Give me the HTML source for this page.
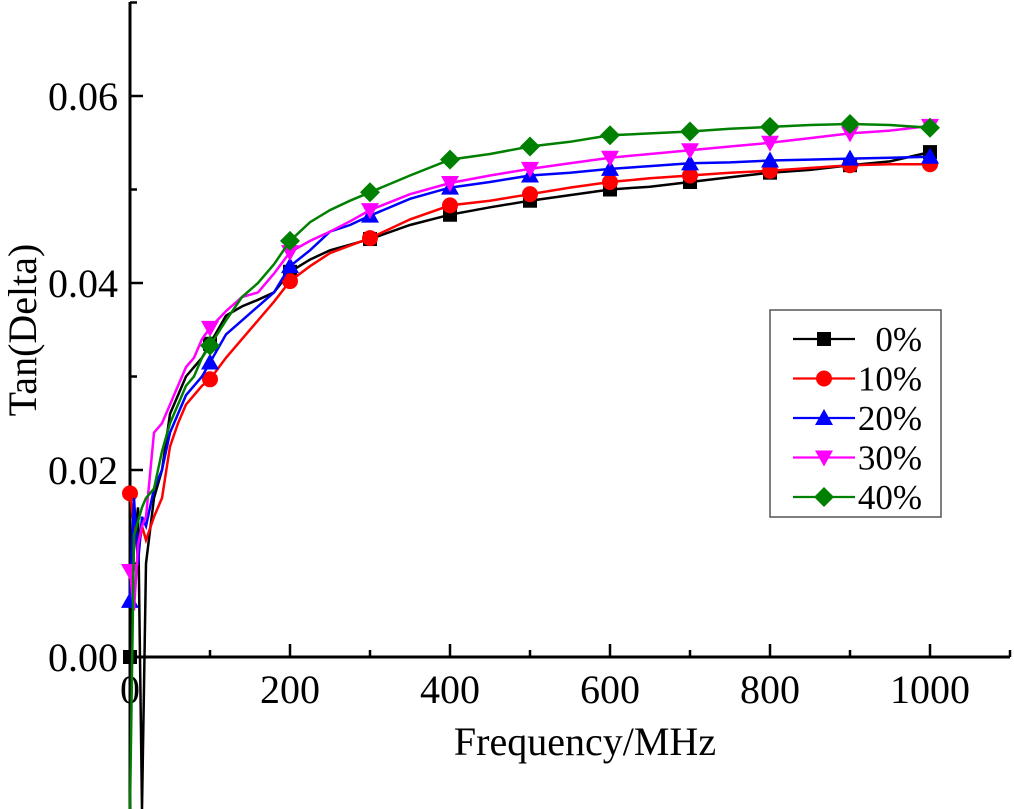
<!DOCTYPE html>
<html><head><meta charset="utf-8"><style>
html,body{margin:0;padding:0;background:#fff;overflow:hidden;width:1014px;height:809px;}
svg{display:block;font-family:"Liberation Serif",serif;}
</style></head><body>
<svg id="chart" width="1014" height="809" viewBox="0 0 1014 809" xmlns="http://www.w3.org/2000/svg">
<defs><clipPath id="clip"><rect x="0" y="0" width="1014" height="809"/></clipPath></defs>
<g id="axes"></g>
<g id="series" clip-path="url(#clip)"></g>
<g id="legend"></g>
</svg>
<script>
const freqs=[0,5,10,15,20,30,40,50,60,70,80,90,100,120,140,160,180,200,225,250,275,300,350,400,450,500,550,600,650,700,750,800,850,900,950,1000];
const s0=[0.000,0.012,0.016,-0.0163,0.010,0.017,0.020,0.026,0.028,0.030,0.031,0.032,0.0335,0.0365,0.0375,0.0382,0.039,0.0412,0.0425,0.0435,0.0441,0.0447,0.0462,0.0473,0.0481,0.0488,0.0494,0.0500,0.0503,0.0508,0.0513,0.0518,0.0521,0.0526,0.0530,0.0540];
const s1=[0.0175,0.014,0.011,0.014,0.0125,0.015,0.017,0.0225,0.025,0.027,0.028,0.029,0.0297,0.032,0.034,0.036,0.038,0.0402,0.0418,0.0432,0.0440,0.0448,0.0468,0.0483,0.0488,0.0495,0.0502,0.0508,0.0512,0.0515,0.0518,0.0520,0.0523,0.0526,0.0527,0.0527];
const s2=[0.006,0.017,0.010,0.015,0.014,0.018,0.020,0.024,0.026,0.028,0.029,0.030,0.0315,0.0345,0.036,0.0375,0.039,0.0418,0.0435,0.0455,0.0462,0.0472,0.0490,0.0502,0.0508,0.0515,0.0518,0.0522,0.0525,0.0528,0.0529,0.0531,0.0532,0.0533,0.0534,0.0535];
const s3=[0.0092,0.005,0.012,0.014,0.015,0.024,0.025,0.027,0.029,0.031,0.032,0.034,0.0352,0.0370,0.0385,0.039,0.041,0.0433,0.0445,0.0455,0.0466,0.0478,0.0495,0.0507,0.0515,0.0522,0.0528,0.0534,0.0538,0.0542,0.0546,0.0550,0.0555,0.0560,0.0563,0.0568];
const s4=[-0.0163,0.013,0.0145,0.016,0.017,0.018,0.022,0.025,0.027,0.029,0.030,0.032,0.0333,0.036,0.0385,0.040,0.042,0.0445,0.0465,0.0478,0.0488,0.0497,0.0515,0.0532,0.0538,0.0546,0.0551,0.0558,0.0560,0.0562,0.0565,0.0567,0.0569,0.0570,0.0569,0.0566];
const seriesNames=["0%","10%","20%","30%","40%"];
const xTicks=[0,200,400,600,800,1000];
const xTickLabels=["0","200","400","600","800","1000"];
const yTicks=[0,0.02,0.04,0.06];
const yTickLabels=["0.00","0.02","0.04","0.06"];

const NS="http://www.w3.org/2000/svg";
const X=f=>130+f*0.8;
const Y=v=>Math.min(809,657-v*9350);
function mk(tag,attrs,parent){const e=document.createElementNS(NS,tag);for(const k in attrs)e.setAttribute(k,attrs[k]);parent.appendChild(e);return e;}
const axes=document.getElementById('axes');
let e;
e=mk('line',{x1:130,y1:Y(0),x2:1010,y2:Y(0),stroke:'#000','stroke-width':3},axes);


e=mk('line',{x1:130,y1:809,x2:130,y2:2,stroke:'#000','stroke-width':3},axes);


for(let f=100;f<=1100;f+=100){
  const major=f%200===0;
  e=mk('line',{x1:X(f),y1:Y(0),x2:X(f),y2:Y(0)-(major?13:7),stroke:'#000','stroke-width':2.5},axes);
  
  
}
xTicks.forEach((t,i)=>{
  e=mk('text',{x:X(t),y:703,'text-anchor':'middle','font-size':40},axes);e.textContent=xTickLabels[i];
  
  
});
for(let v=0.01;v<0.071;v+=0.01){
  const major=Math.round(v*100)%2===0;
  e=mk('line',{x1:130,y1:Y(v),x2:130+(major?13:7),y2:Y(v),stroke:'#000','stroke-width':2.5},axes);
  
  
}
yTicks.forEach((t,i)=>{
  e=mk('text',{x:118,y:Y(t)+14,'text-anchor':'end','font-size':40},axes);e.textContent=yTickLabels[i];
  
  
});
e=mk('text',{x:585,y:755,'text-anchor':'middle','font-size':40},axes);e.textContent='Frequency/MHz';


e=mk('text',{x:0,y:0,'text-anchor':'middle','font-size':40,transform:'translate(36,330) rotate(-90)'},axes);e.textContent='Tan(Delta)';



const colors=['#000000','#ff0000','#0000ff','#ff00ff','#008000'];
const all=[s0,s1,s2,s3,s4];
function marker(k,cx,cy,parent,s){
  const c=colors[k];s=s||1;
  if(k===0)return mk('rect',{x:cx-7*s,y:cy-7*s,width:14*s,height:14*s,fill:c},parent);
  if(k===1)return mk('circle',{cx:cx,cy:cy,r:8*s,fill:c},parent);
  if(k===2)return mk('polygon',{points:`${cx},${cy-9*s} ${cx+9*s},${cy+7*s} ${cx-9*s},${cy+7*s}`,fill:c},parent);
  if(k===3)return mk('polygon',{points:`${cx-9*s},${cy-7*s} ${cx+9*s},${cy-7*s} ${cx},${cy+9*s}`,fill:c},parent);
  return mk('polygon',{points:`${cx},${cy-10*s} ${cx+10*s},${cy} ${cx},${cy+10*s} ${cx-10*s},${cy}`,fill:c},parent);
}
const sg=document.getElementById('series');
all.forEach((vals,k)=>{
  const g=mk('g',{},sg);
  
  
  const d=vals.map((v,i)=>(i?'L':'M')+X(freqs[i]).toFixed(1)+','+Y(v).toFixed(1)).join(' ');
  const p=mk('path',{d:d,fill:'none',stroke:colors[k],'stroke-width':2.5},g);
  
  
  vals.forEach((v,i)=>{
    if(freqs[i]%100===0 && Y(v)<790){
      const m=marker(k,X(freqs[i]),Y(v),g);
      
      
    }
  });
});
const lg=document.getElementById('legend');
e=mk('rect',{x:770,y:310,width:171,height:207,fill:'#fff',stroke:'#555','stroke-width':1.5},lg);


seriesNames.forEach((n,k)=>{
  const cy=339+k*39.5;
  const g=mk('g',{},lg);
  
  
  mk('line',{x1:793,y1:cy,x2:855,y2:cy,stroke:colors[k],'stroke-width':2.2},g);
  marker(k,824,cy,g);
  const t=mk('text',{x:922,y:cy+12,'text-anchor':'end','font-size':35},g);t.textContent=n;
});
</script>
</body></html>
